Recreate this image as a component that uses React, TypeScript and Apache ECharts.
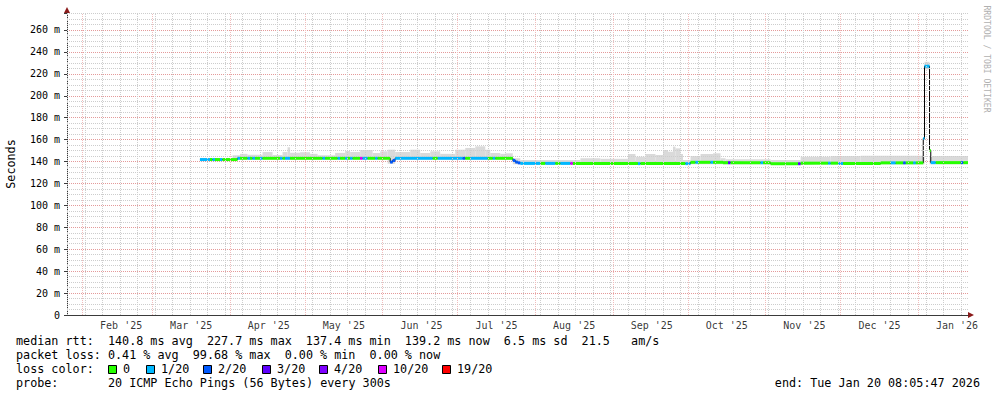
import { useEffect, useRef } from 'react';
import * as echarts from 'echarts';

// ---------- axis range ----------
const AXIS_START = '2025-01-25T21:00:00';
const AXIS_END = '2026-01-20T21:00:00';
const Y_MAX = 275.5;
const Y_INTERVAL = 20;
const FIRST_SUNDAY = '2025-01-26';

// ---------- x labels (centered mid-month) ----------
const monthLabelText = ["Feb '25", "Mar '25", "Apr '25", "May '25", "Jun '25", "Jul '25", "Aug '25", "Sep '25", "Oct '25", "Nov '25", "Dec '25", "Jan '26"];
const monthLabelAt = ['2025-02-16T12:00', '2025-03-16T12:00', '2025-04-16T12:00', '2025-05-16T12:00', '2025-06-16T12:00', '2025-07-16T12:00', '2025-08-16T12:00', '2025-09-16T12:00', '2025-10-16T12:00', '2025-11-16T12:00', '2025-12-16T12:00', '2026-01-16T12:00'];
const monthStarts = ['2025-02-01', '2025-03-01', '2025-04-01', '2025-05-01', '2025-06-01', '2025-07-01', '2025-08-01', '2025-09-01', '2025-10-01', '2025-11-01', '2025-12-01', '2026-01-01'];

// ---------- median rtt (ms), value holds until next point ----------
const medianPts: [string, number][] = [
  ['2025-03-20', 141.8],
  ['2025-04-04', 143.0],
  ['2025-06-04', 139.5],
  ['2025-06-05', 141.0],
  ['2025-06-06', 143.0],
  ['2025-07-23', 141.0],
  ['2025-07-24', 139.5],
  ['2025-07-25', 138.8],
  ['2025-07-26', 138.3],
  ['2025-08-16', 138.1],
  ['2025-10-02', 139.3],
  ['2025-10-15', 138.9],
  ['2025-11-03', 138.0],
  ['2025-11-15', 138.5],
  ['2025-11-30', 138.2],
  ['2025-12-17', 138.8],
  ['2026-01-03T00:00', 161.0],
  ['2026-01-03T12:00', 227.0],
  ['2026-01-05T12:00', 150.0],
  ['2026-01-06T00:00', 139.0],
];

// ---------- smoke: [from, low ms, high ms] ----------
const smokeRows: [string, number, number][] = [
  ['2025-03-20', 140.5, 143.2],
  ['2025-04-02', 141.5, 145.7],
  ['2025-04-05', 141.5, 147.0],
  ['2025-04-08', 141.5, 146.3],
  ['2025-04-14', 141.5, 148.7],
  ['2025-04-18', 141.5, 146.0],
  ['2025-04-22', 141.5, 148.7],
  ['2025-04-24', 141.5, 153.0],
  ['2025-04-25', 141.5, 148.0],
  ['2025-04-29', 141.5, 148.5],
  ['2025-05-03', 141.5, 147.0],
  ['2025-05-06', 141.5, 145.7],
  ['2025-05-13', 141.5, 147.9],
  ['2025-05-17', 141.5, 149.6],
  ['2025-05-19', 141.5, 148.7],
  ['2025-05-23', 141.5, 150.5],
  ['2025-05-28', 141.5, 147.8],
  ['2025-05-31', 141.5, 149.3],
  ['2025-06-03', 138.0, 150.8],
  ['2025-06-06', 141.5, 148.7],
  ['2025-06-12', 141.5, 150.8],
  ['2025-06-16', 141.5, 147.8],
  ['2025-06-20', 141.5, 149.3],
  ['2025-06-24', 141.5, 147.0],
  ['2025-06-30', 141.5, 150.8],
  ['2025-07-04', 141.5, 152.4],
  ['2025-07-08', 141.5, 153.9],
  ['2025-07-12', 141.5, 150.8],
  ['2025-07-14', 141.5, 147.8],
  ['2025-07-18', 141.5, 147.0],
  ['2025-07-20', 141.5, 147.5],
  ['2025-07-23', 137.5, 143.0],
  ['2025-07-26', 137.5, 141.5],
  ['2025-08-19', 137.5, 143.0],
  ['2025-08-27', 137.5, 142.5],
  ['2025-09-07', 137.5, 146.9],
  ['2025-09-10', 137.5, 144.4],
  ['2025-09-14', 137.5, 146.9],
  ['2025-09-18', 137.5, 146.0],
  ['2025-09-21', 137.5, 150.5],
  ['2025-09-23', 137.5, 149.0],
  ['2025-09-25', 137.5, 153.6],
  ['2025-09-26', 137.5, 152.0],
  ['2025-09-28', 137.5, 146.9],
  ['2025-09-29', 137.5, 141.4],
  ['2025-10-02', 137.5, 145.0],
  ['2025-10-06', 137.5, 146.9],
  ['2025-10-11', 137.5, 147.5],
  ['2025-10-14', 137.5, 143.0],
  ['2025-10-16', 137.5, 142.0],
  ['2025-11-03', 137.0, 141.4],
  ['2025-11-15', 137.5, 144.4],
  ['2025-11-27', 137.5, 145.0],
  ['2025-12-09', 137.5, 145.3],
  ['2026-01-03T12:00', 224.0, 231.0],
  ['2026-01-05T12:00', 137.5, 145.0],
];

// ---------- packet loss runs: [from, to, level] (default 0) ----------
const lossRuns: [string, string, string][] = [
  ['2025-03-20', '2025-03-24', '1/20'],
  ['2025-03-25', '2025-03-26', '1/20'],
  ['2025-03-28', '2025-03-29', '1/20'],
  ['2025-04-04', '2025-04-05', '1/20'],
  ['2025-04-08', '2025-04-09', '1/20'],
  ['2025-04-10', '2025-04-11', '1/20'],
  ['2025-04-13', '2025-04-14', '1/20'],
  ['2025-04-21', '2025-04-22', '1/20'],
  ['2025-04-23', '2025-04-25', '1/20'],
  ['2025-05-08', '2025-05-09', '1/20'],
  ['2025-05-14', '2025-05-15', '1/20'],
  ['2025-05-17', '2025-05-18', '1/20'],
  ['2025-05-19', '2025-05-20', '1/20'],
  ['2025-05-23', '2025-05-24', '10/20'],
  ['2025-05-24', '2025-05-26', '1/20'],
  ['2025-05-29', '2025-05-30', '1/20'],
  ['2025-06-04', '2025-06-06', '2/20'],
  ['2025-06-06', '2025-06-21', '1/20'],
  ['2025-06-23', '2025-07-03', '1/20'],
  ['2025-07-03', '2025-07-04', '2/20'],
  ['2025-07-06', '2025-07-13', '1/20'],
  ['2025-07-15', '2025-07-16', '1/20'],
  ['2025-07-23', '2025-07-26', '2/20'],
  ['2025-07-26', '2025-08-03', '1/20'],
  ['2025-08-05', '2025-08-09', '1/20'],
  ['2025-08-11', '2025-08-15', '1/20'],
  ['2025-08-15', '2025-08-16', '10/20'],
  ['2025-09-11', '2025-09-12', '1/20'],
  ['2025-09-30', '2025-10-02', '1/20'],
  ['2025-10-04', '2025-10-05', '1/20'],
  ['2025-10-10', '2025-10-11', '1/20'],
  ['2025-10-17', '2025-10-18', '3/20'],
  ['2025-10-30', '2025-10-31', '1/20'],
  ['2025-11-14', '2025-11-15', '3/20'],
  ['2025-11-26', '2025-11-27', '1/20'],
  ['2025-11-30', '2025-12-02', '1/20'],
  ['2025-12-21', '2025-12-23', '1/20'],
  ['2025-12-26', '2025-12-27', '2/20'],
  ['2025-12-30', '2025-12-31', '1/20'],
  ['2026-01-03', '2026-01-05T12:00', '1/20'],
  ['2026-01-06', '2026-01-08', '1/20'],
  ['2026-01-18', '2026-01-19', '2/20'],
];

const lossLevels = ['0', '1/20', '2/20', '3/20', '4/20', '10/20', '19/20'];
const lossColors = ['#26ff00', '#00b8ff', '#0059ff', '#5e00ff', '#7e00ff', '#dd00ff', '#ff0000'];

// ---------- legend text ----------
const legendLine1: [number, string][] = [[0, 'median rtt:'], [13, '140.8 ms avg'], [27, '227.7 ms max'], [41, '137.4 ms min'], [55, '139.2 ms now'], [69, '6.5 ms sd'], [80, '21.5'], [87, 'am/s']];
const legendLine2: [number, string][] = [[0, 'packet loss:'], [13, '0.41 % avg'], [25, '99.68 % max'], [38, '0.00 % min'], [50, '0.00 % now']];
const legendLine3Label = 'loss color:';
const legendLine4: [number, string][] = [[0, 'probe:'], [13, '20 ICMP Echo Pings (56 Bytes) every 300s']];
const endText = 'end: Tue Jan 20 08:05:47 2026';
const yTitle = 'Seconds';
const watermark = 'RRDTOOL / TOBI OETIKER';

// ---------- styles ----------
const MONO = "'DejaVu Sans Mono', 'Liberation Mono', monospace";
const CHAR_W = 7.07;
const LEG_X = 16;
const LEG_FONT = 11.75;
const GRID_MAJOR_H = '#e49a9a';
const GRID_MAJOR_V = '#f0bcbc';
const GRID_MINOR = '#cdcdcd';
const AXIS_COLOR = '#3a3a3a';
const ARROW_COLOR = '#8b1a1a';
const SMOKE_COLOR = '#dadada';
const lossBoxX = [108, 146, 203, 262, 319, 378, 442];

function ts(s: string): number {
  let full = s;
  if (s.length === 10) full = s + 'T00:00:00';
  else if (s.length === 16) full = s + ':00';
  return Date.parse(full + 'Z');
}

export default function App() {
  const ref = useRef<HTMLDivElement>(null);

  useEffect(() => {
    if (!ref.current) return;
    const chart = echarts.init(ref.current, undefined, { renderer: 'svg' });

    const tMin = ts(AXIS_START);
    const tMax = ts(AXIS_END);
    const DAY = 86400000;

    const weekly: number[] = [];
    for (let t = ts(FIRST_SUNDAY); t <= tMax; t += 7 * DAY) weekly.push(t);
    const minorY: number[] = [];
    for (let v = 5; v < Y_MAX; v += 5) if (v % Y_INTERVAL !== 0) minorY.push(v);

    const medT = medianPts.map(([d, v]) => [ts(d), v] as [number, number]);
    const lossT = lossRuns.map(([a, b, l]) => [ts(a), ts(b), lossLevels.indexOf(l)] as [number, number, number]);

    const bset = new Set<number>();
    medT.forEach((p) => bset.add(p[0]));
    lossT.forEach((r) => { bset.add(r[0]); bset.add(r[1]); });
    bset.add(tMax);
    const bounds = Array.from(bset).filter((t) => t >= medT[0][0] && t <= tMax).sort((a, b) => a - b);
    const segs: { a: number; b: number; v: number; color: string }[] = [];
    for (let i = 0; i < bounds.length - 1; i++) {
      const a = bounds[i];
      const b = bounds[i + 1];
      let v = medT[0][1];
      for (const p of medT) if (p[0] <= a) v = p[1];
      let lvl = 0;
      for (const r of lossT) if (a >= r[0] && a < r[1]) lvl = r[2];
      segs.push({ a, b, v, color: lossColors[lvl] });
    }

    const smokeT = smokeRows.map(([d, lo, hi], i) => {
      const a = ts(d);
      const b = i + 1 < smokeRows.length ? ts(smokeRows[i + 1][0]) : tMax;
      return [a, b, lo, hi];
    });

    const medLine = [...medT, [tMax, medT[medT.length - 1][1]]];

    const gridMarks: any[] = [
      ...weekly.map((t) => ({ xAxis: t, lineStyle: { color: GRID_MINOR, type: [1, 1], width: 1 } })),
      ...minorY.map((v) => ({ yAxis: v, lineStyle: { color: GRID_MINOR, type: [1, 1], width: 1 } })),
      ...monthStarts.map((d) => ({ xAxis: ts(d), lineStyle: { color: GRID_MAJOR_V, type: [1, 1], width: 1 } })),
    ];

    const legendText = (row: [number, string][], y: number) =>
      row.map(([col, text]) => ({
        type: 'text',
        x: LEG_X + col * CHAR_W,
        y,
        style: { text, fill: '#000', font: `${LEG_FONT}px ${MONO}`, verticalAlign: 'middle' },
      }));

    const graphics: any[] = [
      ...legendText(legendLine1, 341),
      ...legendText(legendLine2, 355),
      ...legendText([[0, legendLine3Label]], 369),
      ...legendText(legendLine4, 383),
      ...lossLevels.map((l, i) => ({
        type: 'rect',
        shape: { x: lossBoxX[i] + 0.5, y: 365.5, width: 8, height: 8 },
        style: { fill: lossColors[i], stroke: '#000', lineWidth: 1 },
      })),
      ...lossLevels.map((l, i) => ({
        type: 'text',
        x: lossBoxX[i] + 15,
        y: 369,
        style: { text: l, fill: '#000', font: `${LEG_FONT}px ${MONO}`, verticalAlign: 'middle' },
      })),
      {
        type: 'text', x: 980, y: 383,
        style: { text: endText, fill: '#000', font: `${LEG_FONT}px ${MONO}`, align: 'right', verticalAlign: 'middle' },
      },
      {
        type: 'text', x: 11, y: 164, rotation: Math.PI / 2,
        style: { text: yTitle, fill: '#000', font: `${LEG_FONT}px ${MONO}`, align: 'center', verticalAlign: 'middle' },
      },
      {
        type: 'text', x: 987, y: 59, rotation: -Math.PI / 2,
        style: { text: watermark, fill: '#b0b0b0', font: `8.1px ${MONO}`, align: 'center', verticalAlign: 'middle' },
      },
      {
        type: 'polygon', shape: { points: [[64, 13], [70, 13], [67, 7]] },
        style: { fill: ARROW_COLOR },
      },
      {
        type: 'polygon', shape: { points: [[968, 312], [968, 318], [974, 315]] },
        style: { fill: ARROW_COLOR },
      },
    ];

    const option: any = {
      animation: false,
      textStyle: { fontFamily: MONO },
      grid: { left: 67, right: 29, top: 13, bottom: 82, containLabel: false },
      xAxis: {
        type: 'time',
        min: tMin,
        max: tMax,
        axisLabel: { show: false },
        axisTick: { show: false },
        splitLine: { show: false },
        axisLine: { show: true, lineStyle: { color: AXIS_COLOR, width: 1 } },
      },
      yAxis: {
        type: 'value',
        min: 0,
        max: Y_MAX,
        interval: Y_INTERVAL,
        axisLabel: {
          formatter: (v: number) => (v % Y_INTERVAL !== 0 ? '' : v === 0 ? '0' : `${v} m`),
          fontSize: 10,
          fontFamily: MONO,
          color: '#000',
          margin: 7,
        },
        axisTick: { show: true, length: 3, lineStyle: { color: AXIS_COLOR } },
        axisLine: { show: true, lineStyle: { color: AXIS_COLOR, width: 1 } },
        splitLine: { show: true, showMinLine: false, showMaxLine: false, lineStyle: { color: GRID_MAJOR_H, type: [1, 1], width: 1 } },
      },
      series: [
        {
          type: 'line',
          name: 'grid',
          data: [[tMin, 0]],
          symbol: 'none',
          lineStyle: { opacity: 0 },
          silent: true,
          z: 1,
          markLine: { silent: true, symbol: ['none', 'none'], label: { show: false }, animation: false, data: gridMarks },
        },
        {
          type: 'custom',
          name: 'smoke',
          z: 2,
          silent: true,
          data: smokeT,
          renderItem: (params: any, api: any) => {
            const p0 = api.coord([api.value(0), api.value(3)]);
            const p1 = api.coord([api.value(1), api.value(2)]);
            return {
              type: 'rect',
              shape: { x: p0[0], y: p0[1], width: p1[0] - p0[0], height: p1[1] - p0[1] },
              style: { fill: SMOKE_COLOR },
            };
          },
        },
        {
          type: 'line',
          name: 'median',
          z: 3,
          step: 'end',
          symbol: 'none',
          data: medLine,
          lineStyle: { color: '#000', width: 1 },
          silent: true,
        },
        {
          type: 'custom',
          name: 'loss',
          z: 4,
          silent: true,
          data: segs.map((s) => [s.a, s.b, s.v]),
          renderItem: (params: any, api: any) => {
            const p0 = api.coord([api.value(0), api.value(2)]);
            const p1 = api.coord([api.value(1), api.value(2)]);
            return {
              type: 'rect',
              shape: { x: p0[0], y: p0[1] - 1.5, width: Math.max(p1[0] - p0[0], 0.6), height: 3 },
              style: { fill: segs[params.dataIndex].color },
            };
          },
        },
        {
          type: 'scatter',
          name: 'months',
          z: 5,
          silent: true,
          symbolSize: 1,
          itemStyle: { color: 'transparent' },
          data: monthLabelAt.map((d, i) => ({ value: [ts(d), 0], name: monthLabelText[i] })),
          label: { show: true, position: 'bottom', distance: 5, formatter: '{b}', fontSize: 10, fontFamily: MONO, color: '#000' },
        },
      ],
      graphic: graphics,
    };

    chart.setOption(option);
    return () => chart.dispose();
  }, []);

  return <div ref={ref} style={{ width: 997, height: 397, position: 'absolute', left: 0, top: 0, background: '#fff' }} />;
}
